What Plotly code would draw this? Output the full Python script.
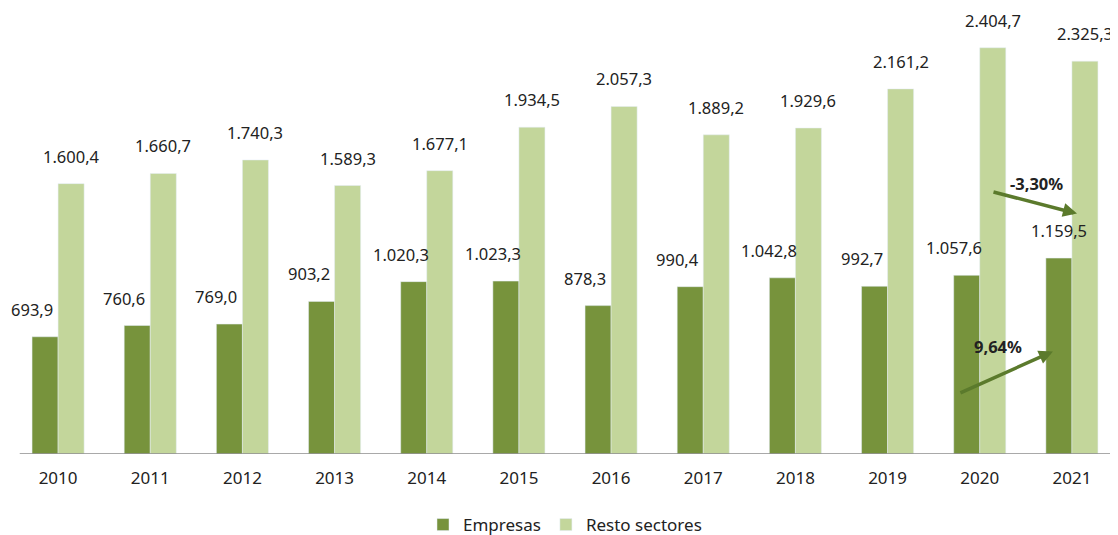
import plotly.graph_objects as go

years = [2010, 2011, 2012, 2013, 2014, 2015, 2016, 2017, 2018, 2019, 2020, 2021]
empresas = [693.9, 760.6, 769.0, 903.2, 1020.3, 1023.3, 878.3, 990.4, 1042.8, 992.7, 1057.6, 1159.5]
resto = [1600.4, 1660.7, 1740.3, 1589.3, 1677.1, 1934.5, 2057.3, 1889.2, 1929.6, 2161.2, 2404.7, 2325.3]
emp_labels = ["693,9", "760,6", "769,0", "903,2", "1.020,3", "1.023,3", "878,3", "990,4",
              "1.042,8", "992,7", "1.057,6", "1.159,5"]
resto_labels = ["1.600,4", "1.660,7", "1.740,3", "1.589,3", "1.677,1", "1.934,5", "2.057,3",
                "1.889,2", "1.929,6", "2.161,2", "2.404,7", "2.325,3"]
growth_labels = ["-3,30%", "9,64%"]

C_EMP = "#77933c"
C_RESTO = "#c3d69b"
C_ARROW = "#5b7a2c"
FONT = "Noto Sans"

fig = go.Figure()
fig.add_trace(go.Bar(x=years, y=empresas, name="Empresas", marker_color=C_EMP))
fig.add_trace(go.Bar(x=years, y=resto, name="Resto sectores", marker_color=C_RESTO))

ann = []
for i, (yr, v, t) in enumerate(zip(years, empresas, emp_labels)):
    ann.append(dict(x=yr, y=v, text=t, showarrow=False, xanchor="center", yanchor="bottom",
                    xshift=-13 if i == len(years) - 1 else -26, yshift=14,
                    font=dict(family=FONT, size=16.5, color="#222")))
for yr, v, t in zip(years, resto, resto_labels):
    ann.append(dict(x=yr, y=v, text=t, showarrow=False, xanchor="center", yanchor="bottom",
                    xshift=13, yshift=14,
                    font=dict(family=FONT, size=16.5, color="#222")))

# growth arrows (head positions in data coordinates, tails offset in pixels)
ann.append(dict(x=2021.055, y=1423, ax=-85, ay=-22, showarrow=True, arrowhead=2,
                arrowsize=0.8, arrowwidth=3.5, arrowcolor=C_ARROW, text=""))
ann.append(dict(x=2021.055, y=1423, text="<b>" + growth_labels[0] + "</b>", showarrow=False,
                xshift=-40, yshift=30, font=dict(family=FONT, size=16.5, color="#222")))
ann.append(dict(x=2020.794, y=607, ax=-94, ay=42, showarrow=True, arrowhead=2,
                arrowsize=0.8, arrowwidth=3.5, arrowcolor=C_ARROW, text=""))
ann.append(dict(x=2020.794, y=607, text="<b>" + growth_labels[1] + "</b>", showarrow=False,
                xshift=-55, yshift=5, font=dict(family=FONT, size=16.5, color="#222")))

fig.update_layout(
    width=1118, height=535,
    margin=dict(l=4, r=8, t=0, b=88),
    plot_bgcolor="white", paper_bgcolor="white",
    barmode="group", bargap=0.435, bargroupgap=0,
    font=dict(family=FONT, size=17, color="#222"),
    xaxis=dict(range=[2009.5, 2021.5], tickmode="array", tickvals=years,
               ticktext=[str(y) for y in years], showgrid=False, zeroline=False,
               showline=False, ticks="", ticklabelstandoff=12,
               tickfont=dict(family=FONT, size=17, color="#222")),
    yaxis=dict(range=[0, 2640], visible=False, showgrid=False, zeroline=False),
    legend=dict(orientation="h", x=0.5, xanchor="center", y=-0.16, yanchor="middle",
                font=dict(family=FONT, size=17, color="#222"), itemwidth=30,
                traceorder="normal"),
    annotations=ann,
    shapes=[dict(type="line", xref="paper", yref="y", x0=0.007, x1=0.995, y0=0, y1=0,
                 line=dict(color="#8c8c8c", width=1.5))],
)

fig.write_html("out.html")
